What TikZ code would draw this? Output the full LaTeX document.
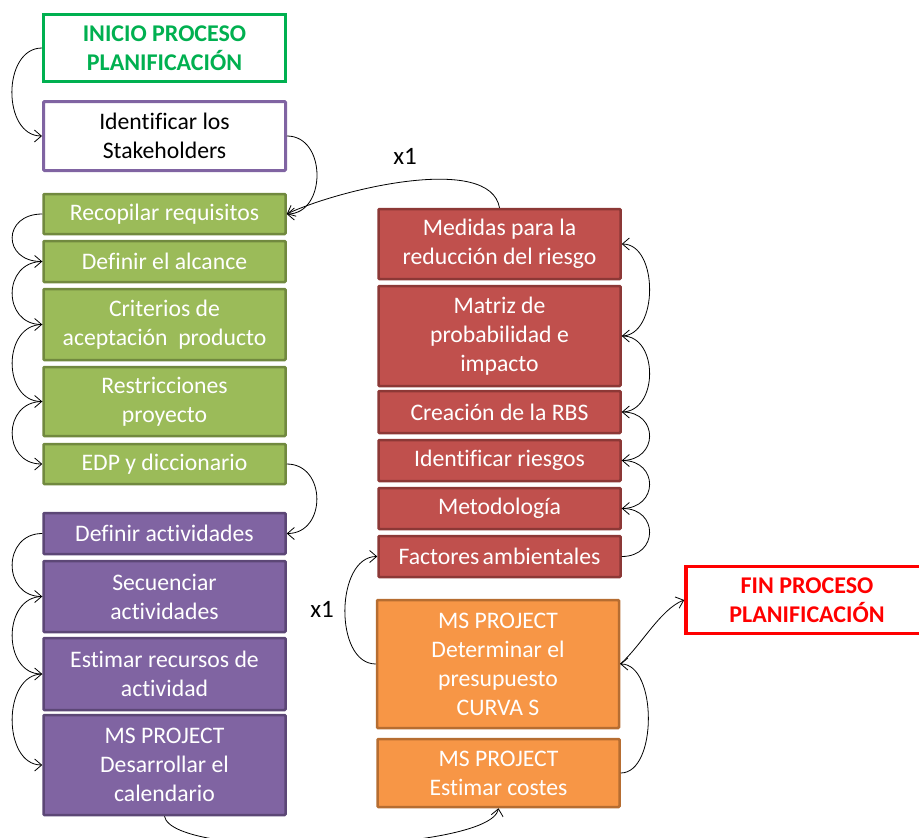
\documentclass[tikz,border=0pt]{standalone}
\usepackage{fontspec}
\setmainfont{Carlito}[Ligatures=NoCommon]
\usetikzlibrary{arrows.meta}
\definecolor{grn}{HTML}{9BBB59}
\definecolor{grnd}{HTML}{71893F}
\definecolor{pur}{HTML}{8064A2}
\definecolor{purd}{HTML}{5C4776}
\definecolor{redf}{HTML}{C0504D}
\definecolor{redd}{HTML}{8C3836}
\definecolor{org}{HTML}{F79646}
\definecolor{orgd}{HTML}{B66D31}
\definecolor{inig}{HTML}{00B050}
\definecolor{finr}{HTML}{FF0000}
\begin{document}
\begin{tikzpicture}[x=1pt,y=-1pt,
  box/.style={rectangle, minimum width=242pt, align=center, inner sep=0pt,
    font=\fontsize{23.7}{29}\selectfont, line width=2.5pt, rounded corners=1pt},
  gbox/.style={box, fill=grn, draw=grnd, text=white},
  pbox/.style={box, fill=pur, draw=purd, text=white},
  rbox/.style={box, fill=redf, draw=redd, text=white},
  obox/.style={box, fill=org, draw=orgd, text=white},
  wbox/.style={box, fill=white, draw=pur, text=black, line width=3pt},
  ibox/.style={box, fill=white, draw=inig, text=inig, line width=3pt, rounded corners=0pt,
    font=\fontsize{24}{29}\selectfont\bfseries},
  fbox/.style={box, fill=white, draw=finr, text=finr, line width=3.5pt, rounded corners=0pt,
    font=\fontsize{24}{29}\selectfont\bfseries},
  lbl/.style={font=\fontsize{25}{29}\selectfont, text=black, inner sep=0pt},
  arr/.style={draw=black, line width=0.8pt, -{Straight Barb[length=7pt,width=12pt]}},
  lft/.style={out=180,in=180,distance=40pt},
  rgt/.style={out=0,in=0,distance=37pt}]
\useasboundingbox (0,0) rectangle (919,838);
% left column
\node[ibox, minimum height=67pt] (ini) at (164.5,48) {INICIO PROCESO\\PLANIFICACIÓN};
\node[wbox, minimum height=69pt] (ide) at (164.5,136) {Identificar los\\Stakeholders};
\node[gbox, minimum height=40pt] (rec) at (164.5,214) {Recopilar requisitos};
\node[gbox, minimum height=41pt] (alc) at (164.5,261.5) {Definir el alcance};
\node[gbox, minimum height=71pt] (cri) at (164.5,324.5) {Criterios de\\aceptación\ \ producto};
\node[gbox, minimum height=69pt] (res) at (164.5,401.5) {Restricciones\\proyecto};
\node[gbox, minimum height=40pt] (edp) at (164.5,464) {EDP y diccionario};
\node[pbox, minimum height=41pt] (dac) at (164.5,533.5) {Definir actividades};
\node[pbox, minimum height=71pt] (sec) at (164.5,596.5) {Secuenciar\\actividades};
\node[pbox, minimum height=72pt] (est) at (164.5,674) {Estimar recursos de\\actividad};
\node[pbox, minimum height=100pt] (des) at (164.5,765) {MS PROJECT\\Desarrollar el\\calendario};
% right column
\node[rbox, minimum height=70pt] (med) at (499.5,244) {Medidas para la\\reducción del riesgo};
\node[rbox, minimum height=100pt] (mat) at (499.5,336) {Matriz de\\probabilidad e\\impacto};
\node[rbox, minimum height=42pt] (cre) at (499.5,412) {Creación de la RBS};
\node[rbox, minimum height=41pt] (idr) at (499.5,460.5) {Identificar riesgos};
\node[rbox, minimum height=41pt] (met) at (499.5,508.5) {Metodología};
\node[rbox, minimum height=41pt] (fac) at (499.5,556.5) {Factores\hspace{-2pt} ambientales};
\node[obox, minimum height=128pt] (det) at (498,664) {MS PROJECT\\Determinar el\\presupuesto\\CURVA S};
\node[obox, minimum height=68pt] (cos) at (498.5,773) {MS PROJECT\\Estimar costes};
\node[fbox, minimum height=67pt] (fin) at (807,600) {FIN PROCESO\\PLANIFICACIÓN};
% labels
\node[lbl] (x1a) at (405,156) {x1};
\node[lbl] (x1b) at (322,609) {x1};
% connectors
\draw[arr] (ini.west) to[lft] (ide.west);
\draw[arr] (ide.east) to[out=0,in=0,distance=40pt] (rec.east);
\draw[arr] (med.north) to[out=100,in=25,out distance=55pt,in distance=60pt] (rec.east);
\draw[arr] (rec.west) to[lft] (alc.west);
\draw[arr] (alc.west) to[lft] (cri.west);
\draw[arr] (cri.west) to[lft] (res.west);
\draw[arr] (res.west) to[lft] (edp.west);
\draw[arr] (edp.east) to[out=0,in=0,distance=40pt] (dac.east);
\draw[arr] (dac.west) to[lft] (sec.west);
\draw[arr] (sec.west) to[lft] (est.west);
\draw[arr] (est.west) to[lft] (des.west);
\draw[arr] (des.south) to[out=-80,in=-100,distance=45pt] (cos.south);
\draw[arr] (cos.east) to[rgt] (det.east);
\draw[arr] (det.east) to[out=40,in=200,distance=25pt] (fin.west);
\draw[arr] (det.west) to[out=180,in=180,distance=42pt] (fac.west);
\draw[arr] (fac.east) to[rgt] (met.east);
\draw[arr] (met.east) to[rgt] (idr.east);
\draw[arr] (idr.east) to[rgt] (cre.east);
\draw[arr] (cre.east) to[rgt] (mat.east);
\draw[arr] (mat.east) to[rgt] (med.east);
\end{tikzpicture}
\end{document}
